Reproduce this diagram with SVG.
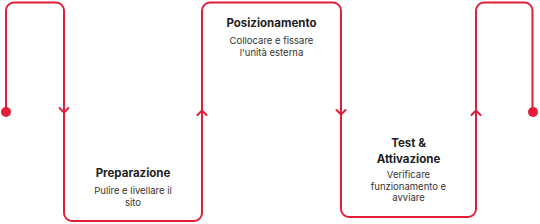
<svg xmlns="http://www.w3.org/2000/svg" width="540" height="224" viewBox="0 0 540 224">
  <style>
    .line { fill: none; stroke: #E11D3A; stroke-width: 2; stroke-linejoin: round; stroke-linecap: round; }
    .dot { fill: #E11D3A; }
    .title { font-family: Inter, "Noto Sans", "Liberation Sans", sans-serif; font-weight: 700; font-size: 11.5px; fill: #1e1e1e; text-anchor: middle; }
    .desc { font-family: Inter, "Noto Sans", "Liberation Sans", sans-serif; font-weight: 400; font-size: 9.5px; fill: #333; text-anchor: middle; }
  </style>
  <rect width="540" height="224" fill="#ffffff"/>
  <g id="connectors">
    <path class="line" d="M6,112 V10.5 A8,8 0 0 1 14,2.5 H56 A8,8 0 0 1 64,10.5 V213 A8,8 0 0 0 72,221 H194 A8,8 0 0 0 202,213 V10.5 A8,8 0 0 1 210,2.5 H333 A8,8 0 0 1 341,10.5 V209 A8,8 0 0 0 349,217 H468 A8,8 0 0 0 476,209 V10.5 A8,8 0 0 1 484,2.5 H524.5 A8,8 0 0 1 532.5,10.5 V112"/>
    <path class="line" d="M59.5,108 L64,112.5 L68.5,108"/>
    <path class="line" d="M197.5,115 L202,110.5 L206.5,115"/>
    <path class="line" d="M336.5,110 L341,114.5 L345.5,110"/>
    <path class="line" d="M471.5,115 L476,110.5 L480.5,115"/>
    <circle class="dot" cx="6" cy="112" r="5"/>
    <circle class="dot" cx="533" cy="112" r="5"/>
  </g>
  <g id="node-preparazione">
    <text class="title" x="133" y="177">Preparazione</text>
    <text class="desc" x="133" y="194">Pulire e livellare il</text>
    <text class="desc" x="133" y="205.5">sito</text>
  </g>
  <g id="node-posizionamento">
    <text class="title" x="271.5" y="27">Posizionamento</text>
    <text class="desc" x="271.5" y="44">Collocare e fissare</text>
    <text class="desc" x="271.5" y="55.5">l'unità esterna</text>
  </g>
  <g id="node-test">
    <text class="title" x="408.5" y="147">Test &amp;</text>
    <text class="title" x="408.5" y="162.5">Attivazione</text>
    <text class="desc" x="408.5" y="178">Verificare</text>
    <text class="desc" x="408.5" y="189.5">funzionamento e</text>
    <text class="desc" x="408.5" y="201">avviare</text>
  </g>
</svg>
